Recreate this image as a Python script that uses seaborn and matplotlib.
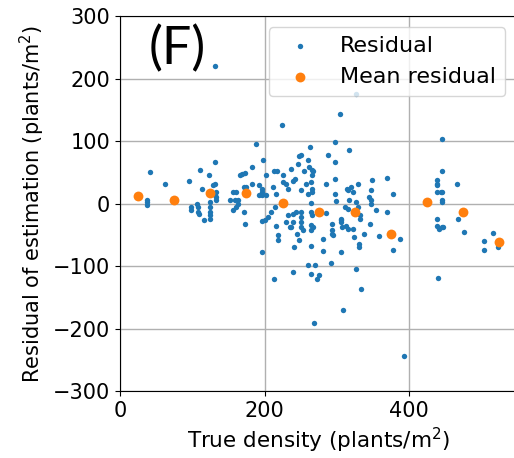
import matplotlib
matplotlib.use("Agg")
import matplotlib.pyplot as plt
import seaborn as sns
import pandas as pd

# Per-plot residuals: (true density, estimated - true)
resid_x = [
    38, 38, 38, 41, 62, 96,
    98, 98, 106, 108, 108, 109, 116, 110, 113, 123, 124, 124, 124, 124, 125,
    128, 132, 132, 133, 133, 133, 131, 132,
    152, 156, 161, 159, 163, 156, 161, 163, 166, 169, 173, 172, 175, 171, 173,
    183, 182, 188, 192, 196, 197, 198, 196, 197, 196, 193,
    202, 202, 213, 217, 212, 216, 214, 209, 205, 200, 216, 218, 219, 213,
    225, 230, 232, 225, 224, 237, 242, 239, 246, 248, 230, 235, 237, 239,
    245, 248, 241, 232, 239, 244, 239,
    251, 260, 262, 266, 267, 266, 254, 263, 264, 266, 266, 251, 260, 264,
    251, 251, 251, 251, 253, 264, 266, 264, 267, 264, 264, 260, 270, 264,
    276, 272, 268, 258, 288, 297, 297, 285, 297, 297, 299, 285, 294, 294,
    294, 295, 281, 281, 292,
    305, 317, 306, 306, 306, 307, 313, 316, 323, 324, 306, 331, 331, 338,
    346, 332, 332, 326, 334, 309, 320, 322, 315, 329, 327, 349, 347, 345,
    347, 347, 354, 317, 311, 315, 327, 329, 314,
    369, 378, 370, 359, 378, 387, 393,
    445, 445, 439, 439, 439, 466, 439, 444, 446, 445, 446, 439, 439, 441,
    446, 447, 467, 476, 440, 504, 504, 516, 523,
]
resid_y = [
    6, 2, -3, 51, 32, 36,
    -5, -11, 0, -5, -13, -17, -27, 54, 23, 45, 3, -5, -13, -19, -24,
    30, 32, 67, 19, 11, 5, 14, 220,
    5, 19, 19, 6, 6, -11, -5, 0, 45, 47, 49, 27, 26, -13, -33,
    59, 32, 95, 29, 24, 19, 69, 13, -28, -77, 14,
    45, 13, 52, 52, 26, 16, -5, -13, -21, -27, -36, -50, -58, -121,
    35, 32, 24, 45, 125, 56, 40, 36, 64, 76, -29, -37, -38, -29,
    -48, -58, -69, -19, -16, -13, -109,
    77, 69, 58, 53, 52, 45, 52, 90, 35, 24, 19, 21, 16, 1,
    -13, -21, -29, -37, -43, -13, -19, -35, -37, -43, -68, -99, -99, -113,
    -115, -120, -191, 32, 78, 67, 99, 32, 40, 16, 4, -15, -32, -42,
    -48, -51, -56, -76, -95,
    143, 85, -24, -27, -29, -37, -36, -40, -40, -54, -78, -64, -70, -49,
    -32, -19, -24, -104, -137, -170, 27, 19, 22, 32, 176, 37, 21, 11,
    6, 0, -11, 5, -5, -8, 3, -6, 24,
    41, 16, -13, -52, -75, -56, -244,
    104, 52, 37, 32, 29, 32, 18, 18, 18, 5, 3, -24, -36, -40,
    -37, -38, -25, -45, -119, -60, -75, -47, -70,
]

# Mean residual per 50-plant density bin
mean_x = [25, 75, 125, 175, 225, 275, 325, 375, 425, 475, 525]
mean_y = [12, 6, 17, 17, 1, -13, -13, -49, 3, -13, -62]

resid = pd.DataFrame({"density": resid_x, "residual": resid_y})
means = pd.DataFrame({"density": mean_x, "residual": mean_y})

fig = plt.figure(figsize=(5.14, 4.58), dpi=100)
ax = fig.add_axes([0.2335, 0.1463, 0.7705, 0.8187])

sns.scatterplot(data=resid, x="density", y="residual", ax=ax,
                color="#1f77b4", s=15, linewidth=0, label="Residual", zorder=3)
sns.scatterplot(data=means, x="density", y="residual", ax=ax,
                color="#ff7f0e", s=50, linewidth=0, label="Mean residual", zorder=4)

ax.set_xlim(0, 548)
ax.set_ylim(-300, 300)
ax.set_xticks([0, 200, 400])
ax.set_yticks([-300, -200, -100, 0, 100, 200, 300])
ax.grid(True, color="#b0b0b0", linewidth=1.0, zorder=0)
ax.set_axisbelow(True)
ax.spines["right"].set_visible(False)
ax.tick_params(labelsize=15)

ax.set_xlabel("True density (plants/m$^2$)", fontsize=15.5)
ax.set_ylabel("Residual of estimation (plants/m$^2$)", fontsize=15)

ax.text(0.071, 0.913, "(F)", transform=ax.transAxes, fontsize=37.5,
        family=["Lato", "DejaVu Sans"], ha="left", va="center")

ax.legend(loc="upper right", fontsize=16, markerscale=1.0)

fig.savefig("out.png", dpi=100)
